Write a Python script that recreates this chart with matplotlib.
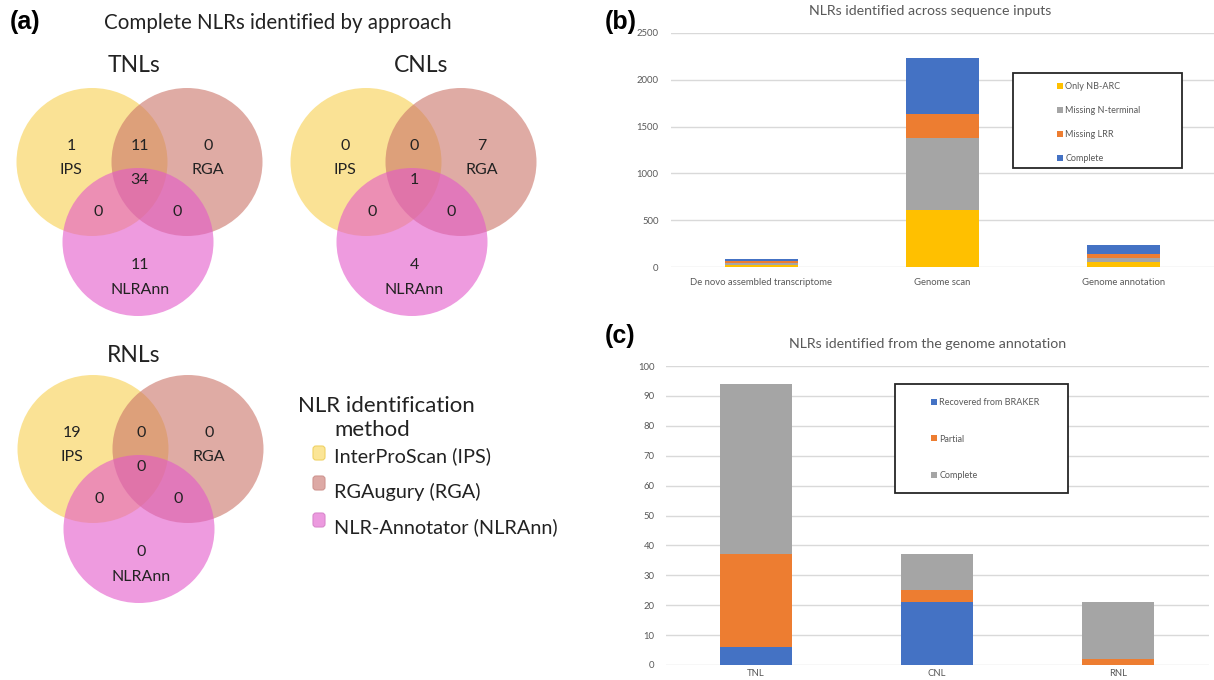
import matplotlib.pyplot as plt
from matplotlib.patches import Ellipse, Rectangle, FancyBboxPatch
import numpy as np

# (a) Venn counts, order: IPS only, IPS&RGA, RGA only, all three,
#     IPS&NLRAnn, RGA&NLRAnn, NLRAnn only
venn_names = ['TNLs', 'CNLs', 'RNLs']
tnl_counts = [1, 11, 0, 34, 0, 0, 11]
cnl_counts = [0, 0, 7, 1, 0, 0, 4]
rnl_counts = [19, 0, 0, 0, 0, 0, 0]
methods = ['InterProScan (IPS)', 'RGAugury (RGA)', 'NLR-Annotator (NLRAnn)']
method_short = ['IPS', 'RGA', 'NLRAnn']

# (b) NLRs per sequence input
inputs = ['De novo assembled transcriptome', 'Genome scan', 'Genome annotation']
only_nbarc = [20, 607, 54]
missing_nterm = [20, 768, 46]
missing_lrr = [20, 261, 43]
complete_b = [26, 596, 89]

# (c) NLRs from the genome annotation
classes = ['TNL', 'CNL', 'RNL']
recovered = [6, 21, 0]
partial = [31, 4, 2]
complete_c = [57, 12, 19]

YELLOW, GRAY, ORANGE, BLUE = '#FFC000', '#A5A5A5', '#ED7D31', '#4472C4'
TXT = '#595959'
FONT = 'Lato'

fig = plt.figure(figsize=(12.14, 6.8), dpi=100)

# ---------- panel (a): venns, drawn in pixel coords ----------
ax = fig.add_axes([0, 0, 600 / 1214, 1])
ax.set_xlim(0, 600)
ax.set_ylim(680, 0)
ax.axis('off')

circle_cols = ['#F8D04E', '#CB7468', '#E358CA']
circle_off = [(0, 0), (95, 0), (46, 80)]
txt_off = [(-21, -16), (48, -16), (116, -16), (48, 18), (6, 50), (85, 50), (48, 103)]
lab_off = [(-21, 8), (116, 8), (48, 128)]
origins = [(92, 162), (366, 162), (93, 449)]
title_pos = [(134, 65), (421, 65), (134, 355)]

for name, counts, (ox, oy), tp in zip(venn_names, [tnl_counts, cnl_counts, rnl_counts],
                                      origins, title_pos):
    for col, (dx, dy) in zip(circle_cols, circle_off):
        ax.add_patch(Ellipse((ox + dx, oy + dy), 151, 148, facecolor=col,
                             alpha=0.6, edgecolor='none'))
    for c, (dx, dy) in zip(counts, txt_off):
        ax.text(ox + dx, oy + dy, str(c), ha='center', va='center',
                fontsize=11.5, family=FONT, color='#222222')
    for lab, (dx, dy) in zip(method_short, lab_off):
        ax.text(ox + dx, oy + dy, lab, ha='center', va='center',
                fontsize=11.5, family=FONT, color='#222222')
    ax.text(tp[0], tp[1], name, ha='center', va='center', fontsize=16.5,
            family=FONT, color='#222222')

ax.text(278, 23, 'Complete NLRs identified by approach', ha='center', va='center',
        fontsize=14.8, family=FONT, color='#222222')
ax.text(10, 22, '(a)', ha='left', va='center', fontsize=18, weight='bold',
        family='Liberation Sans')

# method legend
ax.text(298, 406, 'NLR identification', ha='left', va='center', fontsize=16,
        family=FONT, color='#222222')
ax.text(334, 430, 'method', ha='left', va='center', fontsize=16,
        family=FONT, color='#222222')
leg_sq = ['#FBE596', '#DDA9A5', '#EC9ADF']
leg_edge = ['#EFD264', '#CF9590', '#D987CC']
sq_y = [453, 483, 520]
txt_y = [456, 492, 527]
for m, fc, ec, sy, ty in zip(methods, leg_sq, leg_edge, sq_y, txt_y):
    ax.add_patch(FancyBboxPatch((313, sy - 7), 12, 14,
                                boxstyle='round,pad=0,rounding_size=3',
                                facecolor=fc, edgecolor=ec, lw=0.8))
    ax.text(334, ty, m, ha='left', va='center', fontsize=14.3, family=FONT,
            color='#222222')


def style_excel(a, title, tx):
    a.set_title(title, fontsize=10.2, color=TXT, family=FONT, pad=13, x=tx)
    a.grid(axis='y', color='#D9D9D9', lw=1)
    a.set_axisbelow(True)
    for s in a.spines.values():
        s.set_visible(False)
    a.tick_params(axis='both', length=0, labelsize=6.8, labelcolor=TXT)
    for t in a.get_xticklabels() + a.get_yticklabels():
        t.set_family(FONT)
    a.set_xlim(-0.5, 2.5)


def box_legend(a, x0, y0, x1, y1, lx, ly, spacing):
    a.add_patch(Rectangle((x0, y0), x1 - x0, y1 - y0, transform=a.transAxes,
                          facecolor='white', edgecolor='#262626', lw=1.3,
                          zorder=4))
    leg = a.legend(loc='upper left', bbox_to_anchor=(lx, ly), frameon=False,
                   handlelength=0.65, handleheight=0.65,
                   handletextpad=0.25, labelspacing=spacing, borderpad=0,
                   borderaxespad=0, prop={'family': FONT, 'size': 6.5})
    leg.set_zorder(5)
    for t in leg.get_texts():
        t.set_color(TXT)


# ---------- panel (b) ----------
axb = fig.add_axes([671 / 1214, 413 / 680, 543 / 1214, 234 / 680])
xb = np.arange(len(inputs))
bot = np.zeros(len(inputs))
for vals, col, lab in zip([only_nbarc, missing_nterm, missing_lrr, complete_b],
                          [YELLOW, GRAY, ORANGE, BLUE],
                          ['Only NB-ARC', 'Missing N-terminal', 'Missing LRR', 'Complete']):
    axb.bar(xb, vals, 0.4, bottom=bot, color=col, label=lab, zorder=2)
    bot += np.array(vals)
axb.set_ylim(0, 2500)
axb.set_yticks(np.arange(0, 2501, 500))
axb.set_xticks(xb)
axb.set_xticklabels(inputs)
style_excel(axb, 'NLRs identified across sequence inputs', 0.477)
axb.tick_params(axis='x', pad=8)
axb.tick_params(axis='y', pad=9)
box_legend(axb, 0.630, 0.423, 0.941, 0.829, 0.711, 0.7915, 1.67)
fig.text(605 / 1214, 1 - 22 / 680, '(b)', ha='left', va='center', fontsize=18,
         weight='bold', family='Liberation Sans')

# ---------- panel (c) ----------
axc = fig.add_axes([665.5 / 1214, 15 / 680, 543 / 1214, 299 / 680])
xc = np.arange(len(classes))
bot = np.zeros(len(classes))
for vals, col, lab in zip([recovered, partial, complete_c], [BLUE, ORANGE, GRAY],
                          ['Recovered from BRAKER', 'Partial', 'Complete']):
    axc.bar(xc, vals, 0.4, bottom=bot, color=col, label=lab, zorder=2)
    bot += np.array(vals)
axc.set_ylim(0, 100)
axc.set_yticks(np.arange(0, 101, 10))
axc.set_xticks(xc)
axc.set_xticklabels(classes)
style_excel(axc, 'NLRs identified from the genome annotation', 0.482)
axc.tick_params(axis='x', pad=3)
axc.tick_params(axis='y', pad=8)
box_legend(axc, 0.423, 0.575, 0.741, 0.940, 0.489, 0.892, 3.02)
fig.text(605 / 1214, 1 - 336 / 680, '(c)', ha='left', va='center', fontsize=18,
         weight='bold', family='Liberation Sans')

fig.savefig('out.png', dpi=100)
